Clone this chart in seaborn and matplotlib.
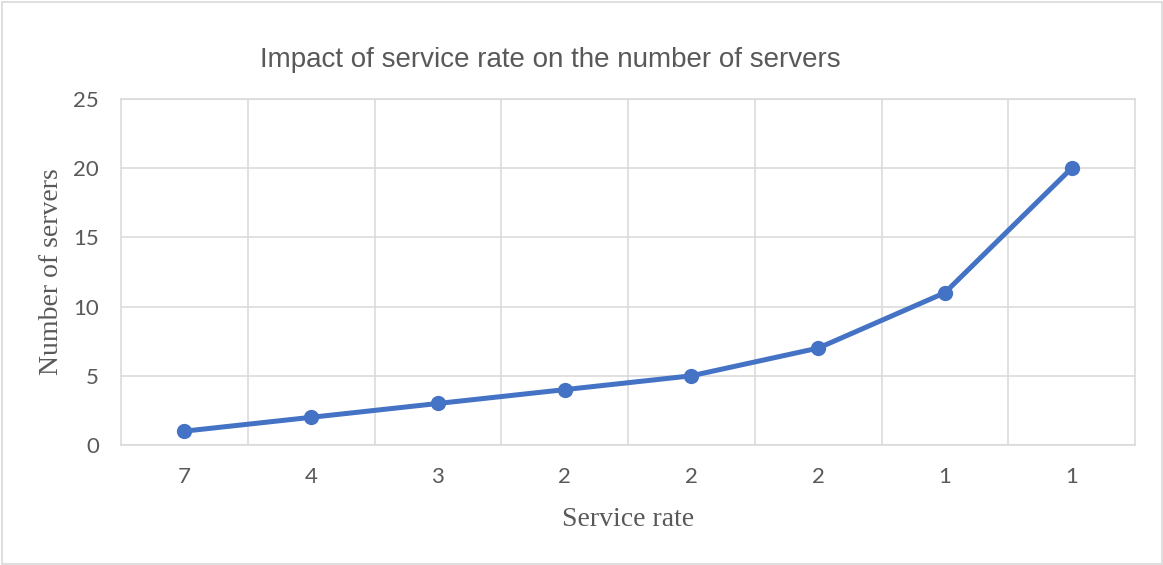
import matplotlib
matplotlib.use("Agg")
import matplotlib.pyplot as plt
import seaborn as sns
import pandas as pd
from matplotlib.patches import Rectangle

# Data
service_rate = ["7", "4", "3", "2", "2", "2", "1", "1"]
num_servers = [1, 2, 3, 4, 5, 7, 11, 20]
y_ticks = [0, 5, 10, 15, 20, 25]

df = pd.DataFrame({
    "pos": range(len(service_rate)),
    "servers": num_servers,
})

sns.set_theme(style="white")
plt.rcParams["font.family"] = ["Lato", "DejaVu Sans"]

W, H = 1163, 565
fig = plt.figure(figsize=(W / 100, H / 100), dpi=100)
fig.patch.set_facecolor("white")

# Chart area border
fig.patches.append(Rectangle((1.5 / W, 1.5 / H), 1 - 3 / W, 1 - 3 / H,
                             transform=fig.transFigure, fill=False,
                             edgecolor="#D9D9D9", linewidth=1.2))

left, right, top, bottom = 121, 1135, 99, 445
ax = fig.add_axes([left / W, 1 - bottom / H, (right - left) / W, (bottom - top) / H])

grid_color = "#D9D9D9"
text_color = "#595959"
line_color = "#4472C4"

# Gridlines: horizontal at value ticks, vertical at category boundaries
for y in y_ticks:
    ax.axhline(y, color=grid_color, linewidth=1.1, zorder=0)
for b in range(1, len(service_rate)):
    ax.axvline(b - 0.5, color=grid_color, linewidth=1.1, zorder=0)

sns.lineplot(data=df, x="pos", y="servers", ax=ax, color=line_color,
             linewidth=3.6, marker="o", markersize=11,
             markeredgecolor=line_color, markeredgewidth=0, zorder=3)

ax.set_xlim(-0.5, len(service_rate) - 0.5)
ax.set_ylim(0, 25)
ax.set_xticks(range(len(service_rate)))
ax.set_xticklabels(service_rate)
ax.set_yticks(y_ticks)
ax.tick_params(axis="both", length=0, labelsize=16, colors=text_color)
ax.tick_params(axis="x", pad=16)
ax.tick_params(axis="y", pad=16)
ax.set_xlabel("")
ax.set_ylabel("")

for side in ["left", "right", "top", "bottom"]:
    ax.spines[side].set_visible(True)
    ax.spines[side].set_color(grid_color)
    ax.spines[side].set_linewidth(1.1)

fig.text(550 / W, 1 - 60 / H, "Impact of service rate on the number of servers",
         ha="center", va="center", fontsize=20, color=text_color,
         family=["Liberation Sans", "DejaVu Sans"])
fig.text(628 / W, 1 - 519 / H, "Service rate", ha="center", va="center",
         fontsize=20, color=text_color, family=["Liberation Serif", "DejaVu Serif"])
fig.text(52 / W, 1 - 272 / H, "Number of servers", ha="center", va="center",
         rotation=90, fontsize=20, color=text_color,
         family=["Liberation Serif", "DejaVu Serif"])

fig.savefig("out.png", dpi=100)
